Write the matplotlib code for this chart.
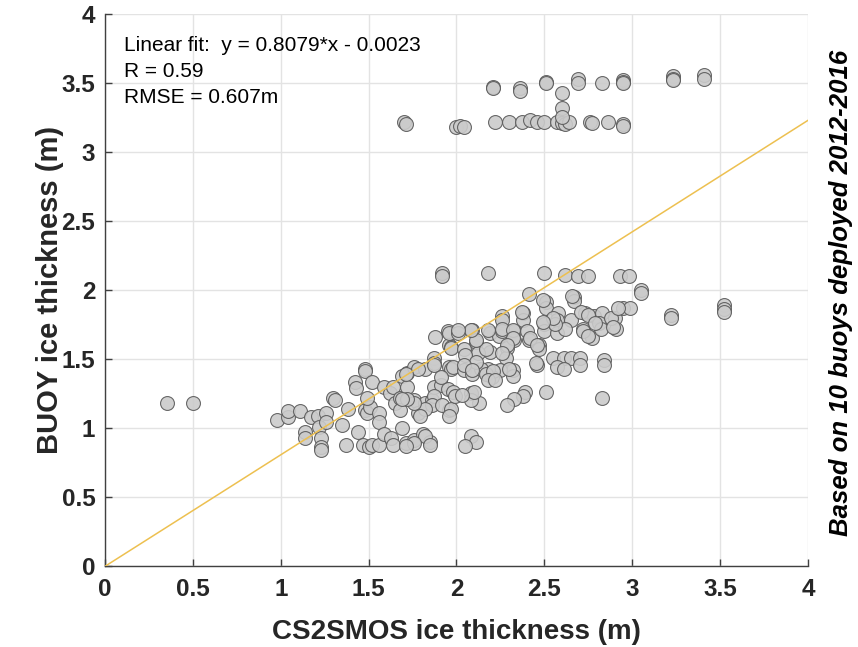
"""
Buoy vs CS2SMOS ice thickness scatter with linear fit.
"""

import numpy as np
import matplotlib
matplotlib.use('Agg')
import matplotlib.pyplot as plt

plt.rcParams['font.family'] = ['Liberation Sans', 'DejaVu Sans']

# upper group (thick buoy ice)
upper_x = [1.70, 1.71, 2.00, 2.02, 2.04, 2.22, 2.30, 2.37, 2.42, 2.46, 2.50, 2.57, 2.60, 2.62,
           2.64, 2.76, 2.77, 2.86, 2.95, 2.95, 2.60, 2.60, 2.60, 2.21, 2.21, 2.36, 2.36, 2.51,
           2.51, 2.69, 2.69, 2.83, 2.95, 2.95, 2.95, 3.23, 3.23, 3.23, 3.41, 3.41]
upper_y = [3.22, 3.20, 3.18, 3.19, 3.18, 3.22, 3.22, 3.22, 3.23, 3.22, 3.22, 3.22, 3.21, 3.20,
           3.22, 3.22, 3.21, 3.22, 3.20, 3.19, 3.43, 3.32, 3.25, 3.47, 3.46, 3.46, 3.44, 3.51,
           3.50, 3.53, 3.50, 3.50, 3.52, 3.51, 3.50, 3.55, 3.53, 3.52, 3.56, 3.53]

# isolated points (left outliers, 2.1 row, right side)
other_x = [0.35, 0.50, 1.92, 1.92, 2.18, 2.50, 2.62, 2.69, 2.75, 2.93, 2.98,
           3.05, 3.05, 3.22, 3.22, 3.52, 3.52, 3.52]
other_y = [1.18, 1.18, 2.12, 2.10, 2.12, 2.12, 2.11, 2.10, 2.10, 2.10, 2.10,
           2.00, 1.98, 1.82, 1.80, 1.89, 1.86, 1.84]

# main cluster
main_x = [0.98, 1.04, 1.04, 1.11, 1.17, 1.14, 1.14, 1.21, 1.22, 1.23, 1.23, 1.23, 1.26, 1.26,
          1.30, 1.31, 1.35, 1.37, 1.38, 1.42, 1.43, 1.44, 1.48, 1.48, 1.48, 1.49, 1.51, 1.47,
          1.50, 1.52, 1.52, 1.49, 1.56, 1.56, 1.56, 1.59,
          1.63, 1.64, 1.59, 1.62, 1.64, 1.65, 1.68, 1.68, 1.69, 1.69, 1.72, 1.76, 1.71, 1.76,
          1.81, 1.85, 1.72, 1.76, 1.78, 1.82, 1.86, 1.82, 1.87, 1.87, 1.88, 1.95, 1.96, 1.96,
          1.87, 1.91, 1.95, 1.98, 1.96, 1.82, 1.85, 1.76, 1.71, 1.87, 1.86, 1.82, 1.76, 1.72,
          1.79, 1.92, 1.97, 1.96, 1.99, 1.97, 1.87, 1.97, 1.91, 1.78, 1.71, 1.69, 1.96, 1.97, 1.98,
          2.08, 2.13, 2.08, 2.08, 2.11, 2.05, 2.01, 2.09, 2.11, 2.19, 2.12, 2.04, 2.04, 2.09,
          2.26, 2.26, 2.38, 2.38, 2.33, 2.33, 2.19, 2.24, 2.26, 2.29, 2.28, 2.32, 2.32, 2.25,
          2.20, 2.18, 2.39, 2.38, 2.33, 2.29, 2.14, 2.17, 2.21, 2.18, 2.22, 2.05, 2.11, 2.41,
          2.26, 2.18, 2.17, 2.11, 2.08, 2.04, 2.09, 2.30, 2.32, 2.32, 2.29, 2.26, 2.01, 2.10, 2.03,
          2.51, 2.51, 2.49, 2.67, 2.67, 2.66, 2.58, 2.57, 2.65, 2.72, 2.73, 2.78, 2.83, 2.77,
          2.90, 2.95, 2.99, 2.91, 2.50, 2.50, 2.57, 2.62, 2.72, 2.81, 2.82, 2.40, 2.41, 2.47,
          2.47, 2.55, 2.61, 2.65, 2.70, 2.57, 2.61, 2.70, 2.84, 2.84, 2.46, 2.51, 2.83, 2.56,
          2.55, 2.71, 2.75, 2.88, 2.92, 2.89, 2.79, 2.75, 2.49, 2.42, 2.46, 2.37, 2.45]
main_y = [1.06, 1.08, 1.12, 1.12, 1.08, 0.97, 0.93, 1.09, 1.01, 0.93, 0.86, 0.84, 1.11, 1.04,
          1.22, 1.20, 1.02, 0.88, 1.14, 1.33, 1.29, 0.97, 1.43, 1.41, 1.13, 1.11, 1.15, 0.88,
          0.86, 0.88, 1.33, 1.22, 1.11, 1.04, 0.88, 0.96,
          0.93, 0.88, 1.30, 1.25, 1.30, 1.18, 1.22, 1.13, 1.00, 1.38, 1.40, 1.44, 0.89, 0.91,
          0.96, 0.90, 1.30, 1.20, 1.11, 1.18, 1.20, 1.43, 1.51, 1.47, 1.66, 1.70, 1.60, 1.44,
          1.30, 1.31, 1.28, 1.26, 1.13, 0.94, 0.88, 0.89, 0.87, 1.23, 1.17, 1.14, 1.18, 1.21,
          1.09, 1.17, 1.14, 1.09, 1.23, 1.59, 1.46, 1.43, 1.37, 1.43, 1.39, 1.21, 1.69, 1.58, 1.44,
          1.25, 1.18, 1.20, 0.94, 0.90, 0.87, 1.69, 1.71, 1.62, 1.55, 1.54, 1.57, 1.42, 1.39,
          1.81, 1.78, 1.83, 1.78, 1.70, 1.64, 1.69, 1.67, 1.70, 1.58, 1.51, 1.42, 1.38, 1.42,
          1.37, 1.43, 1.26, 1.23, 1.21, 1.17, 1.43, 1.39, 1.41, 1.35, 1.35, 1.53, 1.48, 1.97,
          1.72, 1.71, 1.57, 1.64, 1.71, 1.46, 1.42, 1.43, 1.71, 1.65, 1.60, 1.54, 1.71, 1.26, 1.24,
          1.91, 1.87, 1.93, 1.95, 1.92, 1.96, 1.83, 1.78, 1.78, 1.72, 1.83, 1.81, 1.83, 1.65,
          1.80, 1.87, 1.87, 1.72, 1.75, 1.70, 1.69, 1.72, 1.70, 1.76, 1.72, 1.70, 1.64, 1.60,
          1.57, 1.51, 1.51, 1.51, 1.51, 1.44, 1.43, 1.46, 1.49, 1.46, 1.46, 1.26, 1.22, 1.75,
          1.80, 1.84, 1.82, 1.80, 1.87, 1.73, 1.76, 1.67, 1.77, 1.65, 1.60, 1.84, 1.47]

fit_slope = 0.8079
fit_offset = -0.0023
fit_x = [0.0, 4.0]

x = np.array(main_x + other_x + upper_x)
y = np.array(main_y + other_y + upper_y)

fig = plt.figure(figsize=(8.58, 6.47), dpi=100)
ax = fig.add_axes([0.1224, 0.1252, 0.8193, 0.8532])

ax.grid(True, color='#e3e3e3', linewidth=1.0, zorder=0)
ax.set_axisbelow(True)

ax.scatter(x, y, s=100, facecolor='#cbcbcb', edgecolor='#5a5a5a', linewidth=0.8,
           alpha=0.9, zorder=3)

fx = np.array(fit_x)
ax.plot(fx, fit_slope * fx + fit_offset, color='#EDC050', linewidth=1.1, zorder=4)

ax.set_xlim(0, 4)
ax.set_ylim(0, 4)
ticks = np.arange(0, 4.01, 0.5)
tick_labels = ['0', '0.5', '1', '1.5', '2', '2.5', '3', '3.5', '4']
ax.set_xticks(ticks)
ax.set_yticks(ticks)
ax.set_xticklabels(tick_labels)
ax.set_yticklabels(tick_labels)
ax.tick_params(direction='in', length=5, width=1, color='#404040', labelsize=17.5)
ax.tick_params(axis='x', pad=9)
ax.tick_params(axis='y', pad=7)
for lab in ax.get_xticklabels() + ax.get_yticklabels():
    lab.set_fontweight('bold')
    lab.set_color('#262626')

for side in ['top', 'right']:
    ax.spines[side].set_visible(False)
for side in ['left', 'bottom']:
    ax.spines[side].set_color('#404040')
    ax.spines[side].set_linewidth(1.0)

xl = ax.set_xlabel('CS2SMOS ice thickness (m)', fontsize=20, fontweight='bold', color='#262626')
yl = ax.set_ylabel('BUOY ice thickness (m)', fontsize=21, fontweight='bold', color='#262626')
ax.xaxis.set_label_coords(0.5, -0.12)
ax.yaxis.set_label_coords(-0.078, 0.5)
xl.set_va('center')
yl.set_va('center')

ax.text(0.108, 3.77, 'Linear fit:  y = 0.8079*x - 0.0023', fontsize=15, va='center')
ax.text(0.108, 3.585, 'R = 0.59', fontsize=15, va='center')
ax.text(0.108, 3.395, 'RMSE = 0.607m', fontsize=15, va='center')

fig.text(0.980, 0.547, 'Based on 10 buoys deployed 2012-2016', rotation=90,
         fontsize=18.5, fontweight='bold', fontstyle='italic', ha='center', va='center')

plt.savefig('out.png', dpi=100)
